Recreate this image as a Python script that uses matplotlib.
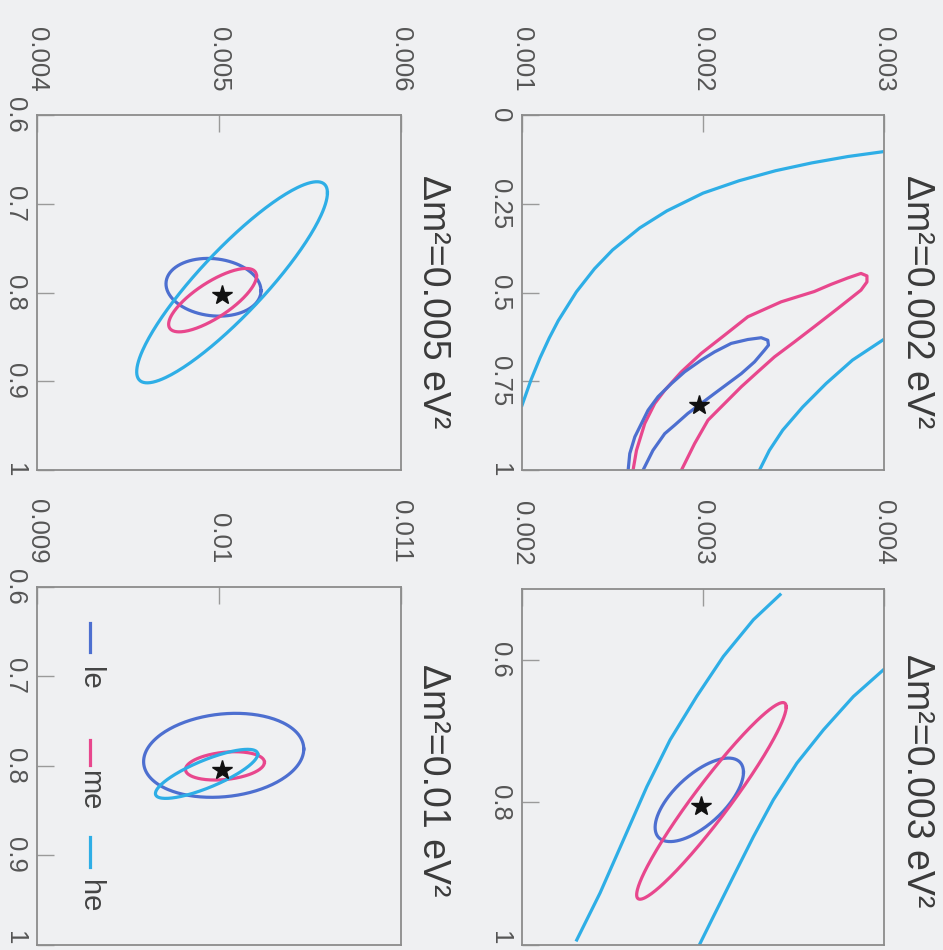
import matplotlib
matplotlib.use('Agg')
import matplotlib.pyplot as plt
import numpy as np

plt.rcParams['font.family'] = ['Liberation Sans', 'DejaVu Sans']

c_le, c_me, c_he = '#4d6fd0', '#e8478d', '#2eaee6'
bg = '#eff0f2'

# --- dm2 = 0.005 panel: confidence ellipses (le, me, he)
a_cx = [0.004971, 0.004966, 0.005073]
a_cy = [0.794, 0.8085, 0.7884]
a_sx = [0.000261, 0.0002415, 0.000524]
a_sy = [0.0325, 0.0357, 0.1132]
a_rho = [0.12, -0.76, -0.89]
a_star = (0.00502, 0.803)

# --- dm2 = 0.01 panel
c_cx = [0.010027, 0.010034, 0.009933]
c_cy = [0.7882, 0.800, 0.8089]
c_sx = [0.00044, 0.000217, 0.000281]
c_sy = [0.0469, 0.0158, 0.0274]
c_rho = [-0.15, -0.25, -0.8]
c_star = (0.01002, 0.805)

# --- dm2 = 0.003 panel (le, me ellipses + open he band)
d_cx = [0.002979, 0.003046]
d_cy = [0.7963, 0.7978]
d_sx = [0.000244, 0.000413]
d_sy = [0.0586, 0.138]
d_rho = [-0.66, -0.955]
d_star = (0.00299, 0.805)
d_he_left_dm2 = [0.003425, 0.003278, 0.003112, 0.002965, 0.002818, 0.002689,
                 0.00256, 0.002431, 0.002302]
d_he_left_s = [0.5084, 0.5435, 0.595, 0.651, 0.712, 0.778, 0.8525, 0.927, 0.993]
d_he_right_dm2 = [0.003996, 0.00383, 0.003665, 0.003518, 0.003388, 0.003278,
                  0.003167, 0.003057, 0.002983]
d_he_right_s = [0.6138, 0.6513, 0.698, 0.7448, 0.7963, 0.848, 0.904, 0.960, 0.998]

# --- dm2 = 0.002 panel (open contours)
b_he_upper_dm2 = [0.00100, 0.00105, 0.00110, 0.00115, 0.00120, 0.00130, 0.00140,
                  0.00150, 0.00165, 0.00180, 0.00200, 0.00220, 0.00240, 0.00260,
                  0.00280, 0.00300]
b_he_upper_s = [0.817, 0.745, 0.683, 0.628, 0.579, 0.498, 0.433, 0.380, 0.318,
                0.270, 0.220, 0.185, 0.157, 0.135, 0.117, 0.103]
b_he_lower_dm2 = [0.002991, 0.002825, 0.002679, 0.00255, 0.00244, 0.002366, 0.002311]
b_he_lower_s = [0.634, 0.690, 0.756, 0.822, 0.887, 0.944, 1.0]
b_me_dm2 = [0.001613, 0.001632, 0.001678, 0.001733, 0.001788, 0.00188, 0.00199,
            0.002118, 0.002247, 0.002431, 0.002614, 0.002706, 0.002798, 0.002872,
            0.002905, 0.002905, 0.002872, 0.002743, 0.002614, 0.002504, 0.002394,
            0.002302, 0.002211, 0.002119, 0.002027, 0.001953, 0.00188]
b_me_s = [1.0, 0.944, 0.868, 0.812, 0.775, 0.723, 0.671, 0.620, 0.568, 0.526,
          0.497, 0.477, 0.459, 0.446, 0.453, 0.470, 0.493, 0.545, 0.596, 0.639,
          0.681, 0.723, 0.765, 0.812, 0.859, 0.925, 1.0]
b_le_dm2 = [0.001586, 0.001595, 0.001623, 0.00166, 0.001696, 0.001751, 0.001825,
            0.001898, 0.00199, 0.002063, 0.002155, 0.002247, 0.002321, 0.002357,
            0.002361, 0.002339, 0.002284, 0.002211, 0.002137, 0.002063, 0.00199,
            0.001916, 0.001843, 0.001788, 0.001723, 0.001668]
b_le_s = [1.0, 0.953, 0.906, 0.868, 0.831, 0.793, 0.756, 0.723, 0.690, 0.667,
          0.643, 0.632, 0.627, 0.634, 0.648, 0.662, 0.695, 0.728, 0.756, 0.784,
          0.812, 0.840, 0.873, 0.897, 0.944, 1.0]
b_star = (0.00198, 0.815)


def conf_ellipse(cx, cy, sx, sy, rho):
    t = np.linspace(0, 2 * np.pi, 240)
    return cx + sx * np.cos(t), cy + sy * (rho * np.cos(t) + np.sqrt(1 - rho ** 2) * np.sin(t))


def setup(ax, xlim, xt, xtl, ylim, yt, ytl, title, ty, bottom_row=False):
    ax.set_facecolor(bg)
    ax.set_xlim(*xlim)
    ax.set_ylim(ylim[1], ylim[0])
    ax.xaxis.tick_top()
    ax.set_xticks(xt)
    ax.set_xticklabels(xtl, rotation=-90)
    ax.set_yticks(yt)
    labs = ax.set_yticklabels(ytl, rotation=-90, va='center')
    if bottom_row:
        labs[-1].set_va('bottom')
    ax.tick_params(direction='in', length=12, width=1, color='#9a9a9a',
                   labelsize=18.5, labelcolor='#555555')
    ax.tick_params(axis='x', pad=17)
    ax.tick_params(axis='y', pad=7)
    for sp in ax.spines.values():
        sp.set_color('#8c8c8c')
        sp.set_linewidth(1.3)
    ax.text(1.04, ty, title, transform=ax.transAxes, rotation=-90,
            ha='left', va='center', fontsize=27, color='#3a3a3a')


fig = plt.figure(figsize=(9.43, 9.5), dpi=100, facecolor=bg)
axA = fig.add_axes([0.039, 0.505, 0.386, 0.374])
axB = fig.add_axes([0.5536, 0.505, 0.384, 0.374])
axC = fig.add_axes([0.039, 0.0053, 0.386, 0.377])
axD = fig.add_axes([0.5536, 0.0053, 0.384, 0.375])

lw = 2.3
cols = [c_le, c_me, c_he]

setup(axA, (0.004, 0.006), [0.004, 0.005, 0.006], ['0.004', '0.005', '0.006'],
      (0.6, 1.0), [0.6, 0.7, 0.8, 0.9, 1.0], ['0.6', '0.7', '0.8', '0.9', '1'],
      'Δm²=0.005 eV²', 0.475)
for i in range(3):
    x, y = conf_ellipse(a_cx[i], a_cy[i], a_sx[i], a_sy[i], a_rho[i])
    axA.plot(x, y, color=cols[i], lw=lw)
axA.plot(*a_star, marker='*', color='#111111', ms=15)

setup(axB, (0.001, 0.003), [0.001, 0.002, 0.003], ['0.001', '0.002', '0.003'],
      (0.0, 1.0), [0, 0.25, 0.5, 0.75, 1.0], ['0', '0.25', '0.5', '0.75', '1'],
      'Δm²=0.002 eV²', 0.475)
axB.plot(b_he_upper_dm2, b_he_upper_s, color=c_he, lw=lw)
axB.plot(b_he_lower_dm2, b_he_lower_s, color=c_he, lw=lw)
axB.plot(b_me_dm2, b_me_s, color=c_me, lw=lw)
axB.plot(b_le_dm2, b_le_s, color=c_le, lw=lw)
axB.plot(*b_star, marker='*', color='#111111', ms=15)

setup(axC, (0.009, 0.011), [0.009, 0.01, 0.011], ['0.009', '0.01', '0.011'],
      (0.6, 1.0), [0.6, 0.7, 0.8, 0.9, 1.0], ['0.6', '0.7', '0.8', '0.9', '1'],
      'Δm²=0.01 eV²', 0.46, bottom_row=True)
for i in range(3):
    x, y = conf_ellipse(c_cx[i], c_cy[i], c_sx[i], c_sy[i], c_rho[i])
    axC.plot(x, y, color=cols[i], lw=lw)
axC.plot(*c_star, marker='*', color='#111111', ms=15)

# legend drawn by hand so the labels can be rotated with the figure
leg_names = ['le', 'me', 'he']
leg_line = [(0.899, 0.818), (0.572, 0.502), (0.301, 0.218)]
leg_text = [0.776, 0.489, 0.181]
for name, col, (y0, y1), yt in zip(leg_names, cols, leg_line, leg_text):
    axC.plot([0.147, 0.147], [y0, y1], color=col, lw=lw, transform=axC.transAxes)
    axC.text(0.147, yt, name, transform=axC.transAxes, rotation=-90,
             ha='center', va='top', fontsize=21, color='#444444')

setup(axD, (0.002, 0.004), [0.002, 0.003, 0.004], ['0.002', '0.003', '0.004'],
      (0.5, 1.0), [0.6, 0.8, 1.0], ['0.6', '0.8', '1'],
      'Δm²=0.003 eV²', 0.46, bottom_row=True)
for i in range(2):
    x, y = conf_ellipse(d_cx[i], d_cy[i], d_sx[i], d_sy[i], d_rho[i])
    axD.plot(x, y, color=cols[i], lw=lw)
axD.plot(d_he_left_dm2, d_he_left_s, color=c_he, lw=lw)
axD.plot(d_he_right_dm2, d_he_right_s, color=c_he, lw=lw)
axD.plot(*d_star, marker='*', color='#111111', ms=15)

fig.savefig('out.png', dpi=100, facecolor=bg)
